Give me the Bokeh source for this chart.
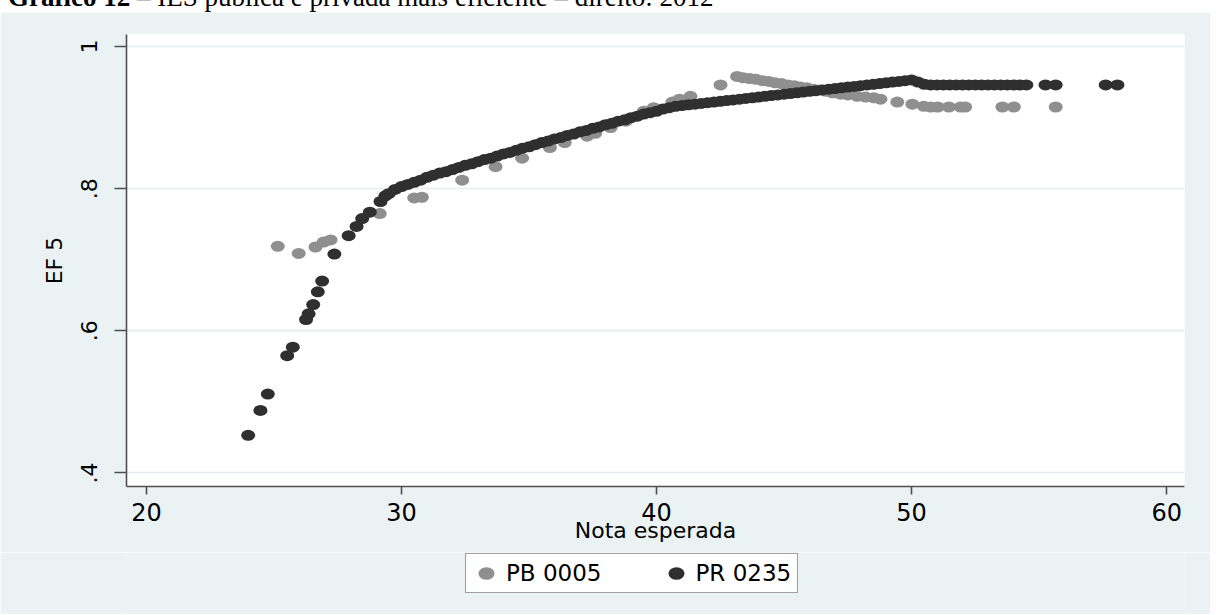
from bokeh.plotting import figure
from bokeh.models import Range1d, FixedTicker, Legend, LegendItem, Div
from bokeh.layouts import column
from bokeh.embed import file_html
from bokeh.resources import INLINE

title_text = "<b>Gráfico 12</b> – IES pública e privada mais eficiente – direito: 2012"
x_label = "Nota esperada"
y_label = "EF 5"
series_names = ["PB 0005", "PR 0235"]

x_ticks = [20, 30, 40, 50, 60]
y_ticks = [0.4, 0.6, 0.8, 1.0]
y_tick_labels = [".4", ".6", ".8", "1"]

# PB 0005 (grey)
pb_x = [25.15, 25.97, 26.63, 26.95, 27.22, 29.15, 30.50, 30.80, 32.38, 33.69,
        34.73, 35.82, 36.40, 37.28, 37.60, 38.20, 38.80, 39.50, 39.89, 40.62,
        40.90, 41.33, 42.51, 43.16, 43.40, 43.65, 43.90, 44.15, 44.40, 44.65,
        44.90, 45.15, 45.40, 45.65, 45.90, 46.15, 46.40, 46.65, 46.90, 47.22,
        47.50, 47.87, 48.20, 48.52, 48.78, 49.44, 50.03, 50.48, 50.75, 51.02,
        51.46, 51.92, 52.10, 53.56, 54.01, 55.65]
pb_y = [0.719, 0.709, 0.718, 0.725, 0.728, 0.765, 0.787, 0.788, 0.812, 0.831,
        0.843, 0.858, 0.865, 0.874, 0.878, 0.886, 0.895, 0.909, 0.914, 0.922,
        0.926, 0.930, 0.946, 0.958, 0.956, 0.955, 0.954, 0.952, 0.951, 0.949,
        0.948, 0.946, 0.945, 0.943, 0.942, 0.940, 0.939, 0.937, 0.935, 0.933,
        0.932, 0.930, 0.929, 0.928, 0.926, 0.922, 0.919, 0.916, 0.915, 0.915,
        0.915, 0.915, 0.915, 0.915, 0.915, 0.915]

# PR 0235 (dark)
pr_x = [23.99, 24.47, 24.76, 25.52, 25.74, 26.26, 26.36, 26.54, 26.72, 26.89,
        27.37, 27.93, 28.24, 28.46, 28.76, 29.18, 29.37,
        29.50, 29.75,
        30.00, 30.25, 30.50, 30.75, 31.00, 31.25, 31.50, 31.75,
        32.00, 32.25, 32.50, 32.75, 33.00, 33.25, 33.50, 33.75,
        34.00, 34.25, 34.50, 34.75, 35.00, 35.25, 35.50, 35.75,
        36.00, 36.25, 36.50, 36.75, 37.00, 37.25, 37.50, 37.75,
        38.00, 38.25, 38.50, 38.75, 39.00, 39.25, 39.50, 39.75,
        40.00, 40.25, 40.50, 40.75, 41.00, 41.25, 41.50, 41.75,
        42.00, 42.25, 42.50, 42.75, 43.00, 43.25, 43.50, 43.75,
        44.00, 44.25, 44.50, 44.75, 45.00, 45.25, 45.50, 45.75,
        46.00, 46.25, 46.50, 46.75, 47.00, 47.25, 47.50, 47.75,
        48.00, 48.25, 48.50, 48.75, 49.00, 49.25, 49.50, 49.75,
        50.00, 50.25, 50.50, 50.75, 51.00, 51.25, 51.50, 51.75,
        52.00, 52.25, 52.50, 52.75, 53.00, 53.25, 53.50, 53.75,
        54.00, 54.25, 54.50, 55.25, 55.65, 57.61, 58.07]
pr_y = [0.453, 0.488, 0.511, 0.565, 0.577, 0.616, 0.624, 0.637, 0.655, 0.670,
        0.708, 0.734, 0.747, 0.758, 0.767, 0.782, 0.790,
        0.793, 0.799,
        0.803, 0.806, 0.809, 0.812, 0.816, 0.819, 0.822, 0.824,
        0.827, 0.830, 0.833, 0.835, 0.838, 0.841, 0.843, 0.846,
        0.849, 0.851, 0.854, 0.857, 0.859, 0.862, 0.865, 0.867,
        0.870, 0.872, 0.875, 0.877, 0.880, 0.882, 0.885, 0.887,
        0.890, 0.892, 0.895, 0.897, 0.900, 0.902, 0.905, 0.907,
        0.909, 0.912, 0.914, 0.916, 0.917, 0.918, 0.919, 0.920,
        0.921, 0.922, 0.923, 0.924, 0.925, 0.926, 0.927, 0.928,
        0.929, 0.930, 0.931, 0.932, 0.933, 0.934, 0.935, 0.936,
        0.937, 0.938, 0.939, 0.940, 0.941, 0.942, 0.943, 0.944,
        0.945, 0.946, 0.947, 0.948, 0.949, 0.950, 0.951, 0.952,
        0.953, 0.950, 0.947, 0.946, 0.946, 0.946, 0.946, 0.946,
        0.946, 0.946, 0.946, 0.946, 0.946, 0.946, 0.946, 0.946,
        0.946, 0.946, 0.946, 0.946, 0.946, 0.946, 0.946]

FONT = "DejaVu Sans"
AXIS_COLOR = "#505050"
BG = "#EAF2F3"
PB_COLOR = "#8F8F8F"
PR_COLOR = "#2F2F2F"

title = Div(text=title_text, width=1200, height=30, margin=(-18, 0, 0, 8),
            styles={"font-family": "'Liberation Serif', serif", "font-size": "27px",
                    "line-height": "30px", "color": "#000000", "white-space": "nowrap"})

p = figure(width=1210, height=540,
           x_range=Range1d(19.22, 60.7), y_range=Range1d(0.381, 1.017),
           output_backend="svg", toolbar_location=None,
           min_border_left=126, min_border_right=26, min_border_top=22, min_border_bottom=66,
           background_fill_color="white", border_fill_color=BG,
           outline_line_color=None)

p.ellipse(x=pb_x, y=pb_y, width=14, height=11, width_units="screen",
          height_units="screen", fill_color=PB_COLOR, line_color=None)
p.ellipse(x=pr_x, y=pr_y, width=14, height=11, width_units="screen",
          height_units="screen", fill_color=PR_COLOR, line_color=None)

p.xaxis.ticker = FixedTicker(ticks=x_ticks)
p.yaxis.ticker = FixedTicker(ticks=y_ticks)
p.yaxis.major_label_overrides = dict(zip(y_ticks, y_tick_labels))
p.yaxis.major_label_orientation = "vertical"

for ax in (p.xaxis[0], p.yaxis[0]):
    ax.axis_line_color = AXIS_COLOR
    ax.axis_line_width = 1.6
    ax.major_tick_line_color = AXIS_COLOR
    ax.major_tick_line_width = 1.6
    ax.major_tick_in = 0
    ax.minor_tick_line_color = None
    ax.major_label_text_font = FONT
    ax.major_label_text_color = "#000000"
    ax.axis_label_text_font = FONT
    ax.axis_label_text_font_style = "normal"
    ax.axis_label_text_color = "#000000"

p.xaxis.axis_label = x_label
p.yaxis.axis_label = y_label
p.xaxis.major_tick_out = 8
p.yaxis.major_tick_out = 12
p.xaxis.major_label_text_font_size = "24px"
p.yaxis.major_label_text_font_size = "22px"
p.xaxis.axis_label_text_font_size = "22px"
p.yaxis.axis_label_text_font_size = "22px"
p.xaxis.major_label_standoff = 8
p.yaxis.major_label_standoff = 17
p.xaxis.axis_label_standoff = -6
p.yaxis.axis_label_standoff = 12

p.xgrid.visible = False
p.ygrid.grid_line_color = "#E4EDEF"
p.ygrid.grid_line_width = 1.5

# legend strip below the chart (its frame is aligned with the chart's frame);
# the key glyphs use the first point of each series, which lies outside this strip's ranges
leg = figure(width=1210, height=62, x_range=Range1d(0, 1), y_range=Range1d(0, 1),
             output_backend="svg", toolbar_location=None, min_border=0,
             x_axis_type=None, y_axis_type=None,
             background_fill_color=BG, border_fill_color=BG, outline_line_color=None)
leg.xgrid.visible = False
leg.ygrid.visible = False
k1 = leg.ellipse(x=pb_x[:1], y=pb_y[:1], width=14, height=11, width_units="screen",
                 height_units="screen", fill_color=PB_COLOR, line_color=None)
k2 = leg.ellipse(x=pr_x[:1], y=pr_y[:1], width=14, height=11, width_units="screen",
                 height_units="screen", fill_color=PR_COLOR, line_color=None)

legend = Legend(items=[LegendItem(label=series_names[0], renderers=[k1]),
                       LegendItem(label=series_names[1], renderers=[k2])],
                location=(339, 21), orientation="horizontal",
                border_line_color="#404040", border_line_width=1.2,
                background_fill_color="white", background_fill_alpha=1.0,
                padding=6, glyph_width=28, glyph_height=20, label_standoff=6,
                spacing=60, label_text_font=FONT, label_text_font_size="23px",
                label_text_color="#000000", margin=0)
leg.add_layout(legend)

layout = column(title, p, leg)
open("out.html", "w").write(file_html(layout, INLINE))
